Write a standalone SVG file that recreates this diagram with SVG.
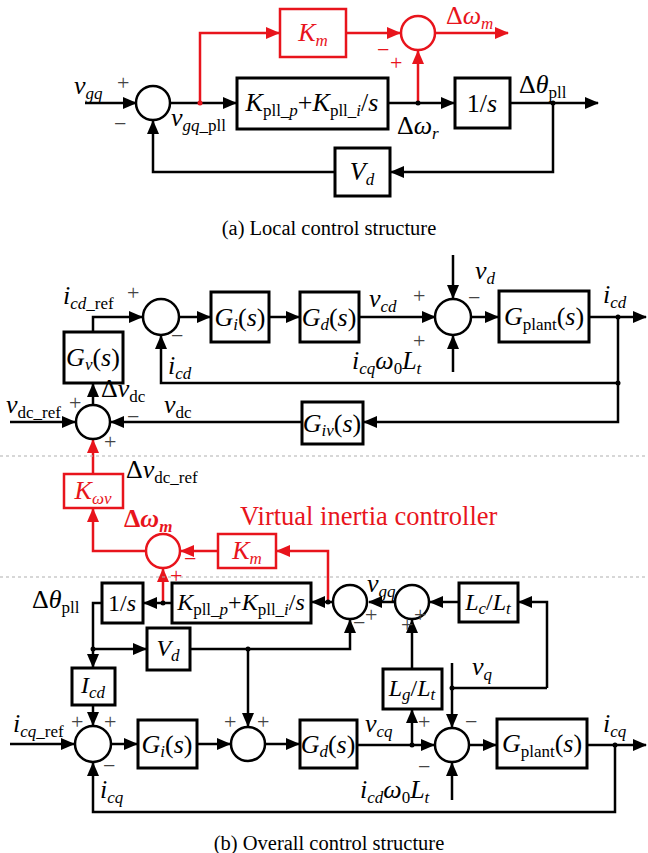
<svg xmlns="http://www.w3.org/2000/svg" width="648" height="853" viewBox="0 0 648 853">
<defs>
<marker id="ab" markerUnits="userSpaceOnUse" markerWidth="14" markerHeight="12" refX="13" refY="6" orient="auto"><path d="M0,0 L14,6 L0,12 z" fill="#000"/></marker>
<marker id="ar" markerUnits="userSpaceOnUse" markerWidth="14" markerHeight="12" refX="13" refY="6" orient="auto"><path d="M0,0 L14,6 L0,12 z" fill="#e8141c"/></marker>
</defs>
<style>
.ln{stroke:#000;stroke-width:2.5;fill:none}
.la{stroke:#000;stroke-width:2.5;fill:none;marker-end:url(#ab)}
.ra{stroke:#e8141c;stroke-width:2.5;fill:none;marker-end:url(#ar)}
.box{fill:#fff;stroke:#000;stroke-width:3}
.rbox{fill:#fff;stroke:#e8141c;stroke-width:2.5}
.sum{fill:#fff;stroke:#000;stroke-width:2.5}
.rsum{fill:#fff;stroke:#e8141c;stroke-width:2.5}
.dash{stroke:#b0b0b0;stroke-width:1.2;stroke-dasharray:3,3}
.t{font-family:"Liberation Serif","Times New Roman",serif;font-size:26px;fill:#000}
.tm{font-family:"Liberation Serif","Times New Roman",serif;font-size:24px;fill:#000}
.r{fill:#e8141c}
.i{font-style:italic}
.s{font-size:17px}
.sg{font-family:"Liberation Serif",serif;font-size:22px;fill:#444}
.rsg{font-family:"Liberation Serif",serif;font-size:22px;fill:#e8141c}
.cap{font-family:"Liberation Serif","Times New Roman",serif;font-size:20.5px;fill:#000}
</style>

<g id="connectors">
<!-- part a -->
<path class="la" d="M85,103 H136"/>
<path class="la" d="M170,103 H236"/>
<path class="ra" d="M200,103 V33 H279"/>
<path class="ra" d="M346,33 H400"/>
<path class="ra" d="M435,33 H508"/>
<path class="ra" d="M418,103 V51"/>
<path class="la" d="M388,103 H454"/>
<path class="la" d="M510,103 H598"/>
<path class="la" d="M553,103 V172 H391"/>
<path class="la" d="M335,172 H153 V121"/>
<!-- part b d-row -->
<path class="la" d="M93,332 V317 H142"/>
<path class="la" d="M179,317 H210"/>
<path class="la" d="M269,317 H299"/>
<path class="la" d="M359,317 H435"/>
<path class="la" d="M453,255 V298"/>
<path class="la" d="M453,372 V336"/>
<path class="la" d="M471,317 H498"/>
<path class="la" d="M589,317 H646"/>
<path class="la" d="M618,317 V383 H161 V336"/>
<path class="la" d="M618,383 V422 H364"/>
<path class="la" d="M302,422 H111"/>
<path class="la" d="M10,422 H75"/>
<path class="la" d="M93,405 V384"/>
<!-- red -->
<path class="ra" d="M93,474 V440"/>
<path class="ra" d="M146,551 H93 V509"/>
<path class="ra" d="M218,551 H181"/>
<path class="ra" d="M328,602 V551 H277"/>
<path class="ra" d="M163,602 V569"/>
<!-- pll row -->
<path class="la" d="M172,603 H144"/>
<path class="la" d="M333,602 H312"/>
<path class="la" d="M395,602 H369"/>
<path class="la" d="M459,602 H430"/>
<path class="la" d="M547,688 V602 H519"/>
<path class="ln" d="M547,688 H452"/>
<path class="la" d="M452,663 V727"/>
<path class="la" d="M102,603 H93 V667"/>
<path class="la" d="M93,649 H146"/>
<path class="la" d="M190,649 H350 V620"/>
<path class="la" d="M248,649 V726"/>
<path class="la" d="M412,669 V620"/>
<!-- q row -->
<path class="la" d="M93,705 V725"/>
<path class="la" d="M10,744 H74"/>
<path class="la" d="M111,744 H137"/>
<path class="la" d="M197,744 H230"/>
<path class="la" d="M265,744 H299"/>
<path class="la" d="M357,745 H434"/>
<path class="la" d="M412,745 V710"/>
<path class="la" d="M452,800 V763"/>
<path class="la" d="M469,745 H496"/>
<path class="la" d="M587,745 H646"/>
<path class="la" d="M615,745 V812 H93 V763"/>
<!-- dots -->
<g fill="#000">
<circle cx="200" cy="103" r="2.5" fill="#e8141c"/>
<circle cx="418" cy="103" r="2.5"/>
<circle cx="553" cy="103" r="2.5"/>
<circle cx="618" cy="317" r="2.5"/>
<circle cx="618" cy="383" r="2.5"/>
<circle cx="163" cy="603" r="2.5"/>
<circle cx="328" cy="602" r="2.5"/>
<circle cx="452" cy="688" r="2.5"/>
<circle cx="93" cy="649" r="2.5"/>
<circle cx="248" cy="649" r="2.5"/>
<circle cx="412" cy="745" r="2.5"/>
<circle cx="615" cy="745" r="2.5"/>
</g>
</g>

<g id="dividers">
<line class="dash" x1="0" y1="456" x2="648" y2="456"/>
<line class="dash" x1="0" y1="577" x2="648" y2="577"/>
</g>

<!-- ===== Part (a) ===== -->
<g id="a_sum1"><circle class="sum" cx="153" cy="103" r="17"/></g>
<g id="a_km"><rect class="rbox" x="280" y="9" width="66" height="48"/>
<text class="t r" x="313" y="41" text-anchor="middle"><tspan class="i">K</tspan><tspan class="s i" dy="5">m</tspan></text></g>
<g id="a_rsum"><circle class="rsum" cx="418" cy="33" r="17"/></g>
<g id="a_kpll"><rect class="box" x="237" y="78" width="151" height="51"/>
<text class="t" x="312" y="111" text-anchor="middle"><tspan class="i">K</tspan><tspan class="s" dy="5">pll_</tspan><tspan class="s i">p</tspan><tspan dy="-5">+</tspan><tspan class="i">K</tspan><tspan class="s" dy="5">pll_</tspan><tspan class="s i">i</tspan><tspan dy="-5">/</tspan><tspan class="i">s</tspan></text></g>
<g id="a_int"><rect class="box" x="455" y="78" width="55" height="50"/>
<text class="t" x="482" y="112" text-anchor="middle">1/<tspan class="i">s</tspan></text></g>
<g id="a_vd"><rect class="box" x="335" y="148" width="55" height="48"/>
<text class="t" x="362" y="180" text-anchor="middle"><tspan class="i">V</tspan><tspan class="s i" dy="5">d</tspan></text></g>
<g id="a_labels">
<text class="t" x="74" y="94"><tspan class="i">v</tspan><tspan class="s i" dy="5">gq</tspan></text>
<text class="sg" x="117" y="90">+</text>
<text class="sg" x="114" y="131">−</text>
<text class="t" x="171" y="126"><tspan class="i">v</tspan><tspan class="s i" dy="5">gq</tspan><tspan class="s">_pll</tspan></text>
<text class="t" x="397" y="134">Δ<tspan class="i">ω</tspan><tspan class="s i" dy="5">r</tspan></text>
<text class="t" x="519" y="93">Δ<tspan class="i">θ</tspan><tspan class="s" dy="5">pll</tspan></text>
<text class="t r" x="446" y="24">Δ<tspan class="i">ω</tspan><tspan class="s i" dy="5">m</tspan></text>
<text class="rsg" x="377" y="57">−</text>
<text class="rsg" x="390" y="70">+</text>
</g>
<text class="cap" x="329" y="235" text-anchor="middle">(a) Local control structure</text>

<!-- ===== Part (b) ===== -->
<g id="b_sd1"><circle class="sum" cx="161" cy="317" r="18"/></g>
<g id="b_gv"><rect class="box" x="64" y="332" width="59" height="51"/>
<text class="t" x="93" y="366" text-anchor="middle"><tspan class="i">G</tspan><tspan class="s i" dy="4">v</tspan><tspan dy="-4">(</tspan><tspan class="i">s</tspan>)</text></g>
<g id="b_gi1"><rect class="box" x="211" y="292" width="58" height="50"/>
<text class="t" x="240" y="326" text-anchor="middle"><tspan class="i">G</tspan><tspan class="s i" dy="4">i</tspan><tspan dy="-4">(</tspan><tspan class="i">s</tspan>)</text></g>
<g id="b_gd1"><rect class="box" x="300" y="292" width="59" height="50"/>
<text class="t" x="329" y="326" text-anchor="middle"><tspan class="i">G</tspan><tspan class="s i" dy="4">d</tspan><tspan dy="-4">(</tspan><tspan class="i">s</tspan>)</text></g>
<g id="b_sd2"><circle class="sum" cx="453" cy="317" r="18"/></g>
<g id="b_gp1"><rect class="box" x="499" y="291" width="90" height="51"/>
<text class="t" x="544" y="325" text-anchor="middle"><tspan class="i">G</tspan><tspan class="s" dy="5">plant</tspan><tspan dy="-5">(</tspan><tspan class="i">s</tspan>)</text></g>
<g id="b_giv"><rect class="box" x="302" y="402" width="61" height="42"/>
<text class="t" x="332" y="432" text-anchor="middle"><tspan class="i">G</tspan><tspan class="s i" dy="4">iv</tspan><tspan dy="-4">(</tspan><tspan class="i">s</tspan>)</text></g>
<g id="b_sdc"><circle class="sum" cx="93" cy="422" r="17"/></g>
<g id="b_dlabels">
<text class="t" x="63" y="304"><tspan class="i">i</tspan><tspan class="s i" dy="5">cd</tspan><tspan class="s">_ref</tspan></text>
<text class="sg" x="127" y="300">+</text>
<text class="sg" x="171" y="343">−</text>
<text class="t" x="168" y="374"><tspan class="i">i</tspan><tspan class="s i" dy="5">cd</tspan></text>
<text class="t" x="369" y="307"><tspan class="i">v</tspan><tspan class="s i" dy="5">cd</tspan></text>
<text class="sg" x="413" y="303">+</text>
<text class="sg" x="413" y="348">+</text>
<text class="t" x="475" y="279"><tspan class="i">v</tspan><tspan class="s i" dy="5">d</tspan></text>
<text class="sg" x="468" y="305">−</text>
<text class="t" x="352" y="369"><tspan class="i">i</tspan><tspan class="s i" dy="5">cq</tspan><tspan class="i" dy="-5">ω</tspan><tspan class="s" dy="5">0</tspan><tspan class="i" dy="-5">L</tspan><tspan class="s i" dy="5">t</tspan></text>
<text class="t" x="603" y="303"><tspan class="i">i</tspan><tspan class="s i" dy="5">cd</tspan></text>
<text class="t" x="6" y="413"><tspan class="i">v</tspan><tspan class="s" dy="5">dc_ref</tspan></text>
<text class="sg" x="69" y="410">+</text>
<text class="t" x="101" y="397">Δ<tspan class="i">v</tspan><tspan class="s" dy="5">dc</tspan></text>
<text class="t" x="164" y="413"><tspan class="i">v</tspan><tspan class="s" dy="5">dc</tspan></text>
<text class="sg" x="127" y="424">−</text>
<text class="sg" x="104" y="449">+</text>
<text class="t" x="126" y="478">Δ<tspan class="i">v</tspan><tspan class="s" dy="5">dc_ref</tspan></text>
</g>

<g id="b_kwv"><rect class="rbox" x="64" y="474" width="59" height="34"/>
<text class="t r" x="93" y="499" text-anchor="middle"><tspan class="i">K</tspan><tspan class="s i" dy="5">ωv</tspan></text></g>
<g id="b_rsum"><circle class="rsum" cx="163" cy="551" r="17"/></g>
<g id="b_km"><rect class="rbox" x="218" y="534" width="58" height="34"/>
<text class="t r" x="247" y="559" text-anchor="middle"><tspan class="i">K</tspan><tspan class="s i" dy="5">m</tspan></text></g>
<g id="b_rlabels">
<text class="t r" x="124" y="527" font-weight="bold">Δ<tspan class="i">ω</tspan><tspan class="s i" dy="5">m</tspan></text>
<text class="rsg" x="184" y="566">−</text>
<text class="rsg" x="170" y="583">+</text>
<text class="t r" x="240" y="525" style="font-size:26.5px">Virtual inertia controller</text>
</g>

<g id="b_int"><rect class="box" x="102" y="583" width="41" height="40"/>
<text class="tm" x="122" y="611" text-anchor="middle">1/<tspan class="i">s</tspan></text></g>
<g id="b_kpll"><rect class="box" x="172" y="583" width="139" height="40"/>
<text class="tm" x="241" y="610" text-anchor="middle"><tspan class="i">K</tspan><tspan class="s" dy="5">pll_</tspan><tspan class="s i">p</tspan><tspan dy="-5">+</tspan><tspan class="i">K</tspan><tspan class="s" dy="5">pll_</tspan><tspan class="s i">i</tspan><tspan dy="-5">/</tspan><tspan class="i">s</tspan></text></g>
<g id="b_sp1"><circle class="sum" cx="350" cy="602" r="17"/></g>
<g id="b_sp2"><circle class="sum" cx="412" cy="602" r="17"/></g>
<g id="b_lclt"><rect class="box" x="459" y="583" width="59" height="39"/>
<text class="tm" x="488" y="610" text-anchor="middle"><tspan class="i">L</tspan><tspan class="s i" dy="4">c</tspan><tspan dy="-4">/</tspan><tspan class="i">L</tspan><tspan class="s i" dy="4">t</tspan></text></g>
<g id="b_vd"><rect class="box" x="147" y="628" width="43" height="42"/>
<text class="tm" x="168" y="656" text-anchor="middle"><tspan class="i">V</tspan><tspan class="s i" dy="5">d</tspan></text></g>
<g id="b_lglt"><rect class="box" x="383" y="669" width="59" height="40"/>
<text class="tm" x="412" y="696" text-anchor="middle"><tspan class="i">L</tspan><tspan class="s i" dy="4">g</tspan><tspan dy="-4">/</tspan><tspan class="i">L</tspan><tspan class="s i" dy="4">t</tspan></text></g>
<g id="b_plabels">
<text class="t" x="32" y="608">Δ<tspan class="i">θ</tspan><tspan class="s" dy="5">pll</tspan></text>
<text class="t" x="367" y="592"><tspan class="i">v</tspan><tspan class="s i" dy="5">gq</tspan></text>
<text class="sg" x="353" y="630">−</text>
<text class="sg" x="365" y="622">+</text>
<text class="sg" x="414" y="622">+</text>
<text class="sg" x="401" y="632">+</text>
<text class="t" x="472" y="675"><tspan class="i">v</tspan><tspan class="s i" dy="5">q</tspan></text>
</g>

<g id="b_icd"><rect class="box" x="72" y="668" width="43" height="37"/>
<text class="tm" x="93" y="693" text-anchor="middle"><tspan class="i">I</tspan><tspan class="s i" dy="5">cd</tspan></text></g>
<g id="b_sq1"><circle class="sum" cx="93" cy="744" r="18"/></g>
<g id="b_gi2"><rect class="box" x="138" y="720" width="59" height="48"/>
<text class="t" x="167" y="753" text-anchor="middle"><tspan class="i">G</tspan><tspan class="s i" dy="4">i</tspan><tspan dy="-4">(</tspan><tspan class="i">s</tspan>)</text></g>
<g id="b_sq2"><circle class="sum" cx="248" cy="744" r="17"/></g>
<g id="b_gd2"><rect class="box" x="300" y="720" width="57" height="48"/>
<text class="t" x="328" y="753" text-anchor="middle"><tspan class="i">G</tspan><tspan class="s i" dy="4">d</tspan><tspan dy="-4">(</tspan><tspan class="i">s</tspan>)</text></g>
<g id="b_sq3"><circle class="sum" cx="452" cy="745" r="17"/></g>
<g id="b_gp2"><rect class="box" x="497" y="719" width="90" height="49"/>
<text class="t" x="542" y="752" text-anchor="middle"><tspan class="i">G</tspan><tspan class="s" dy="5">plant</tspan><tspan dy="-5">(</tspan><tspan class="i">s</tspan>)</text></g>
<g id="b_qlabels">
<text class="t" x="13" y="732"><tspan class="i">i</tspan><tspan class="s i" dy="5">cq</tspan><tspan class="s">_ref</tspan></text>
<text class="sg" x="71" y="729">+</text>
<text class="sg" x="104" y="729">+</text>
<text class="sg" x="103" y="773">−</text>
<text class="t" x="100" y="798"><tspan class="i">i</tspan><tspan class="s i" dy="5">cq</tspan></text>
<text class="sg" x="224" y="729">+</text>
<text class="sg" x="257" y="729">+</text>
<text class="t" x="365" y="732"><tspan class="i">v</tspan><tspan class="s i" dy="5">cq</tspan></text>
<text class="sg" x="418" y="729">+</text>
<text class="sg" x="465" y="729">−</text>
<text class="sg" x="418" y="774">−</text>
<text class="t" x="360" y="798"><tspan class="i">i</tspan><tspan class="s i" dy="5">cd</tspan><tspan class="i" dy="-5">ω</tspan><tspan class="s" dy="5">0</tspan><tspan class="i" dy="-5">L</tspan><tspan class="s i" dy="5">t</tspan></text>
<text class="t" x="603" y="732"><tspan class="i">i</tspan><tspan class="s i" dy="5">cq</tspan></text>
</g>
<text class="cap" x="329" y="850" text-anchor="middle">(b) Overall control structure</text>
</svg>
